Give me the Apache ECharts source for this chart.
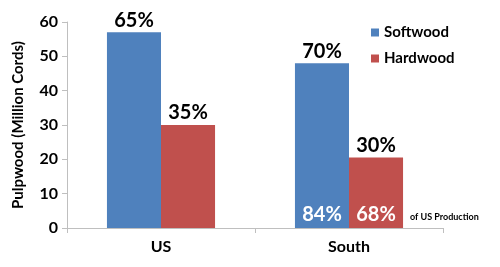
<!DOCTYPE html>
<html><head><meta charset="utf-8">
<script src="https://cdn.jsdelivr.net/npm/echarts@6/dist/echarts.min.js"></script>
<style>html,body{margin:0;padding:0;background:#fff}#c{width:500px;height:267px}</style>
</head><body><div id="c"></div>
<script>
var categories = ['US', 'South'];
var softwood = [57, 48];
var hardwood = [30, 20.5];
var softwoodShare = ['65%', '70%'];
var hardwoodShare = ['35%', '30%'];
var softwoodOfUS = ['', '84%'];
var hardwoodOfUS = ['', '68%'];
var yTicks = [0, 10, 20, 30, 40, 50, 60];
var noteText = 'of US Production';

var FONT = 'Lato';
var chart = echarts.init(document.getElementById('c'));
function topSeries(stack, shares) {
  return {
    name: stack + 'Top', type: 'bar', stack: stack,
    data: categories.map(function(){ return 0; }),
    itemStyle: { color: 'transparent' },
    label: { show: true, position: 'top', distance: 2,
      formatter: function(p){ return shares[p.dataIndex]; },
      color: '#000', fontFamily: FONT, fontWeight: 'bold', fontSize: 20 },
    silent: true
  };
}
chart.setOption({
  animation: false,
  textStyle: { fontFamily: FONT },
  grid: { left: 67, right: 57, top: 22, bottom: 39 },
  legend: {
    data: ['Softwood', 'Hardwood'], orient: 'vertical', left: 366, top: 20,
    itemWidth: 8, itemHeight: 8, itemGap: 11, icon: 'rect',
    textStyle: { fontFamily: FONT, fontWeight: 'bold', fontSize: 15, color: '#000' }
  },
  xAxis: {
    type: 'category', data: categories,
    axisLine: { lineStyle: { color: '#bfbfbf' } },
    axisTick: { show: true, length: 5, lineStyle: { color: '#bfbfbf' } },
    axisLabel: { color: '#000', fontFamily: FONT, fontWeight: 'bold', fontSize: 16, margin: 11 }
  },
  yAxis: {
    type: 'value', min: yTicks[0], max: yTicks[yTicks.length - 1], interval: 10,
    name: 'Pulpwood (Million Cords)', nameLocation: 'middle', nameGap: 41,
    nameTextStyle: { color: '#000', fontFamily: FONT, fontWeight: 'bold', fontSize: 15 },
    axisLine: { show: true, lineStyle: { color: '#bfbfbf' } },
    axisTick: { show: true, length: 5, lineStyle: { color: '#bfbfbf' } },
    splitLine: { show: false },
    axisLabel: { color: '#000', fontFamily: FONT, fontWeight: 'bold', fontSize: 16, margin: 9 }
  },
  series: [
    { name: 'Softwood', type: 'bar', stack: 'soft', data: softwood,
      barCategoryGap: '42.5%', barGap: '0%',
      itemStyle: { color: '#4F81BD' },
      label: { show: true, position: 'insideBottom', distance: 3,
        formatter: function(p){ return softwoodOfUS[p.dataIndex]; },
        color: '#fff', fontFamily: FONT, fontWeight: 'bold', fontSize: 20 } },
    topSeries('soft', softwoodShare),
    { name: 'Hardwood', type: 'bar', stack: 'hard', data: hardwood,
      barCategoryGap: '42.5%', barGap: '0%',
      itemStyle: { color: '#C0504D' },
      label: { show: true, position: 'insideBottom', distance: 3,
        formatter: function(p){ return hardwoodOfUS[p.dataIndex]; },
        color: '#fff', fontFamily: FONT, fontWeight: 'bold', fontSize: 20 } },
    topSeries('hard', hardwoodShare)
  ],
  graphic: [{
    type: 'text', left: 410, top: 213,
    style: { text: noteText, fill: '#000', font: 'bold 9px ' + FONT }
  }]
});
</script></body></html>
